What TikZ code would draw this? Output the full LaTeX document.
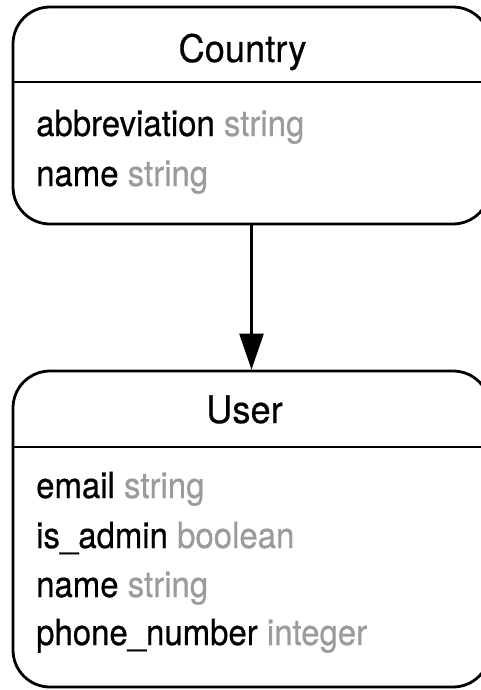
\documentclass[tikz,border=0pt]{standalone}
\usepackage{fontspec}
\usepackage{graphicx}
\setmainfont{TeX Gyre Heros}
\newfontfamily\entfont{TeX Gyre Heros}[FakeBold=0.5]
\usetikzlibrary{arrows.meta}
\definecolor{typegray}{RGB}{155,155,155}
% narrowed text, as set in the entity boxes
\newcommand\titletext[1]{\scalebox{0.955}[1]{#1}}
\newcommand\attrtext[2]{\scalebox{0.915}[1]{#1 \textcolor{typegray}{#2}}}
\begin{document}
\begin{tikzpicture}[x=1pt,y=-1pt,
  entity/.style={draw=black,line width=2.8pt,rounded corners=37pt,
    minimum width=477pt,inner sep=0pt},
  divider/.style={line width=2.8pt},
  title/.style={anchor=base,inner sep=0pt,font=\entfont\fontsize{38}{42}\selectfont},
  attr/.style={anchor=base west,inner sep=0pt,font=\entfont\fontsize{36}{40}\selectfont},
  rel/.style={line width=2.8pt,-{Triangle[length=36pt,width=24pt]}}]
\useasboundingbox (0,0) rectangle (481,690);
\clip (0,0) rectangle (481,690);

% Country entity
\node[entity,minimum height=217pt] (country) at (251.5,115.5) {};
\draw[divider] (13,82) coordinate (ch1) -- (490,82) coordinate (ch2);
\node[title] (countryname) at (242.5,62) {\titletext{Country}};
\node[attr] (cattr1) at (36,136) {\attrtext{abbreviation}{string}};
\node[attr] (cattr2) at (36,186) {\attrtext{name}{string}};

% User entity
\node[entity,minimum height=316pt] (user) at (251.5,529) {};
\draw[divider] (13,447) coordinate (uh1) -- (490,447) coordinate (uh2);
\node[title] (username) at (244.5,423) {\titletext{User}};
\node[attr] (uattr1) at (36,498) {\attrtext{email}{string}};
\node[attr] (uattr2) at (36,548) {\attrtext{is\_admin}{boolean}};
\node[attr] (uattr3) at (36,597) {\attrtext{name}{string}};
\node[attr] (uattr4) at (36,645) {\attrtext{phone\_number}{integer}};

% relationship
\draw[rel] (country.south) -- (user.north);
\end{tikzpicture}
\end{document}
